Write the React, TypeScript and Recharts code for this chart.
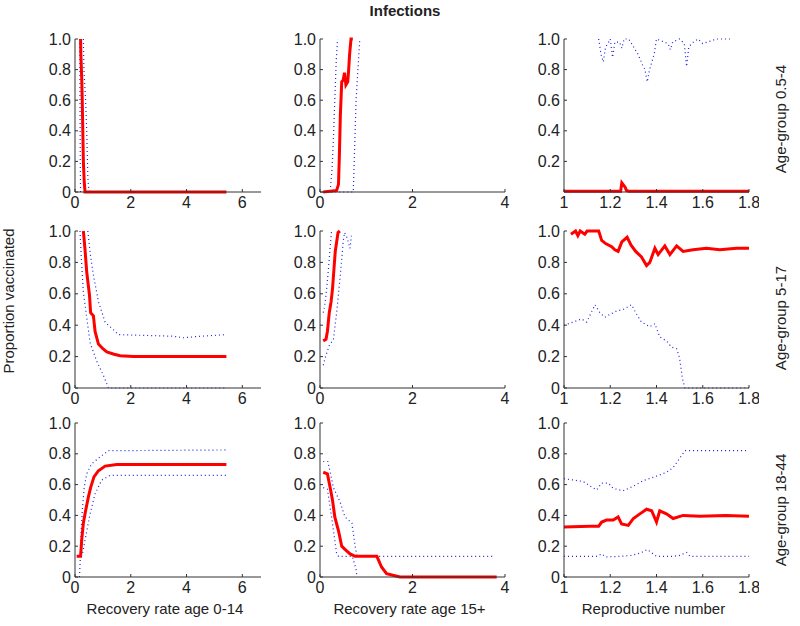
import { LineChart, Line, XAxis, YAxis } from 'recharts'

type Pt = [number, number]

const FONT = '"Liberation Sans", Arial, Helvetica, sans-serif'
const RED = '#ff0000'
const BLUE = '#2020e8'
const INK = '#222'

// x axes per column
const xTicksYoung = [0, 2, 4, 6]
const xTicksOld = [0, 2, 4]
const xTicksR = [1, 1.2, 1.4, 1.6, 1.8]
const yTicks = [0, 0.2, 0.4, 0.6, 0.8, 1]
const yTicksNoZero = [0.2, 0.4, 0.6, 0.8, 1]

const rowLabels = ['Age-group 0.5-4', 'Age-group 5-17', 'Age-group 18-44']
const colLabels = ['Recovery rate age 0-14', 'Recovery rate age 15+', 'Reproductive number']

// ---- age-group 0.5-4 ----
const r1c1Mid: Pt[] = [[0.2, 1.0], [0.21, 0.9], [0.22, 0.85], [0.24, 0.75], [0.26, 0.6], [0.28, 0.4], [0.3, 0.2], [0.33, 0.07], [0.36, 0], [5.43, 0]]
const r1c1Lo: Pt[] = [[0.17, 1.0], [0.18, 0.6], [0.19, 0.2], [0.2, 0], [5.43, 0]]
const r1c1Hi: Pt[] = [[0.3, 1.0], [0.32, 0.8], [0.38, 0.6], [0.42, 0.4], [0.46, 0.1], [0.5, 0], [5.43, 0]]

const r1c2Mid: Pt[] = [[0.07, 0], [0.36, 0.01], [0.4, 0.05], [0.42, 0.25], [0.44, 0.5], [0.47, 0.72], [0.5, 0.73], [0.53, 0.78], [0.56, 0.7], [0.6, 0.72], [0.62, 0.8], [0.64, 0.9], [0.67, 1.0], [0.71, 1.0]]
const r1c2Hi: Pt[] = [[0.07, 0], [0.22, 0], [0.26, 0.15], [0.29, 0.35], [0.32, 0.6], [0.35, 0.85], [0.38, 1.0]]
const r1c2Lo: Pt[] = [[0.07, 0], [0.6, 0], [0.72, 0], [0.75, 0.3], [0.78, 0.6], [0.82, 0.8], [0.86, 1.0]]

const r1c3Mid: Pt[] = [[1, 0.005], [1.245, 0.005], [1.25, 0.06], [1.255, 0.05], [1.26, 0.04], [1.265, 0.03], [1.27, 0.01], [1.28, 0.005], [1.8, 0.005]]
const r1c3Hi: Pt[] = [[1.15, 1.0], [1.16, 0.9], [1.17, 0.85], [1.18, 0.95], [1.19, 0.97], [1.2, 1.0], [1.21, 0.88], [1.22, 0.98], [1.24, 0.98], [1.25, 0.94], [1.26, 1.0], [1.28, 1.0], [1.3, 0.95], [1.32, 0.9], [1.34, 0.83], [1.35, 0.8], [1.36, 0.72], [1.37, 0.8], [1.38, 0.85], [1.39, 0.9], [1.4, 1.0], [1.45, 0.97], [1.46, 0.93], [1.47, 0.98], [1.5, 1.0], [1.52, 0.97], [1.53, 0.82], [1.54, 0.95], [1.56, 0.98], [1.58, 1.0], [1.6, 0.97], [1.62, 0.98], [1.64, 0.99], [1.66, 1.0], [1.72, 1.0]]

// ---- age-group 5-17 ----
const r2c1Mid: Pt[] = [[0.3, 1.0], [0.36, 0.88], [0.42, 0.74], [0.48, 0.65], [0.52, 0.59], [0.56, 0.48], [0.66, 0.46], [0.72, 0.36], [0.84, 0.28], [1.0, 0.25], [1.14, 0.23], [1.4, 0.215], [1.62, 0.205], [2.1, 0.2], [5.43, 0.2]]
const r2c1Hi: Pt[] = [[0.46, 1.0], [0.55, 0.85], [0.66, 0.72], [0.84, 0.55], [1.08, 0.42], [1.26, 0.39], [1.56, 0.34], [2.5, 0.335], [3.5, 0.33], [3.9, 0.32], [4.5, 0.33], [5.43, 0.34]]
const r2c1Lo: Pt[] = [[0.18, 1.0], [0.22, 0.85], [0.3, 0.61], [0.54, 0.29], [0.78, 0.17], [1.02, 0.08], [1.2, 0], [5.43, 0]]

const r2c2Mid: Pt[] = [[0.07, 0.3], [0.13, 0.31], [0.16, 0.36], [0.2, 0.48], [0.24, 0.55], [0.27, 0.63], [0.3, 0.75], [0.33, 0.87], [0.36, 0.93], [0.39, 0.99], [0.43, 1.0]]
const r2c2Hi: Pt[] = [[0.07, 0.48], [0.1, 0.52], [0.14, 0.62], [0.18, 0.75], [0.22, 0.9], [0.25, 1.0]]
const r2c2Lo: Pt[] = [[0.07, 0.145], [0.12, 0.2], [0.2, 0.27], [0.29, 0.31], [0.36, 0.48], [0.43, 0.69], [0.47, 0.82], [0.5, 0.93], [0.53, 0.99], [0.58, 0.96], [0.65, 0.89], [0.68, 0.97]]

const r2c3Mid: Pt[] = [[1.03, 0.98], [1.05, 1.0], [1.06, 0.97], [1.07, 1.0], [1.09, 0.98], [1.1, 1.0], [1.15, 1.0], [1.163, 0.94], [1.18, 0.92], [1.206, 0.9], [1.22, 0.88], [1.234, 0.87], [1.25, 0.93], [1.273, 0.96], [1.29, 0.91], [1.31, 0.87], [1.335, 0.835], [1.357, 0.78], [1.371, 0.8], [1.393, 0.89], [1.407, 0.85], [1.436, 0.905], [1.458, 0.85], [1.487, 0.905], [1.515, 0.87], [1.558, 0.88], [1.616, 0.89], [1.674, 0.88], [1.746, 0.89], [1.8, 0.89]]
const r2c3Lo: Pt[] = [[1.0, 0.4], [1.04, 0.42], [1.076, 0.44], [1.098, 0.42], [1.134, 0.53], [1.155, 0.48], [1.177, 0.45], [1.2, 0.47], [1.227, 0.49], [1.256, 0.5], [1.292, 0.53], [1.314, 0.47], [1.335, 0.42], [1.371, 0.39], [1.393, 0.41], [1.414, 0.325], [1.443, 0.3], [1.465, 0.26], [1.487, 0.25], [1.5, 0.19], [1.512, 0.06], [1.523, 0], [1.8, 0]]

// ---- age-group 18-44 ----
const r3c1Mid: Pt[] = [[0.06, 0.134], [0.2, 0.134], [0.24, 0.24], [0.3, 0.35], [0.38, 0.43], [0.48, 0.52], [0.56, 0.58], [0.68, 0.65], [0.84, 0.69], [1.08, 0.72], [1.5, 0.73], [5.43, 0.73]]
const r3c1Hi: Pt[] = [[0.16, 0], [0.19, 0.12], [0.22, 0.3], [0.27, 0.45], [0.33, 0.58], [0.42, 0.67], [0.6, 0.735], [0.9, 0.78], [1.2, 0.82], [5.43, 0.825]]
const r3c1Lo: Pt[] = [[0.2, 0.134], [0.28, 0.16], [0.36, 0.24], [0.54, 0.41], [0.72, 0.54], [0.96, 0.63], [1.26, 0.66], [5.43, 0.66]]

const r3c2Mid: Pt[] = [[0.07, 0.68], [0.16, 0.67], [0.22, 0.58], [0.27, 0.5], [0.32, 0.39], [0.4, 0.3], [0.47, 0.2], [0.54, 0.18], [0.65, 0.15], [0.76, 0.134], [1.23, 0.134], [1.33, 0.065], [1.44, 0.022], [1.73, 0], [3.82, 0]]
const r3c2Hi: Pt[] = [[0.07, 0.75], [0.17, 0.75], [0.29, 0.58], [0.43, 0.49], [0.54, 0.39], [0.69, 0.35], [0.76, 0.2], [0.8, 0.134], [3.75, 0.134]]
const r3c2Lo: Pt[] = [[0.07, 0.58], [0.16, 0.57], [0.25, 0.39], [0.36, 0.15], [0.4, 0.134], [0.7, 0.134], [0.78, 0.05], [0.8, 0]]

const r3c3Mid: Pt[] = [[1.0, 0.325], [1.112, 0.33], [1.15, 0.33], [1.163, 0.357], [1.184, 0.37], [1.213, 0.37], [1.234, 0.39], [1.249, 0.345], [1.278, 0.335], [1.3, 0.38], [1.328, 0.41], [1.357, 0.44], [1.379, 0.43], [1.4, 0.357], [1.414, 0.43], [1.443, 0.41], [1.472, 0.38], [1.515, 0.4], [1.587, 0.395], [1.7, 0.4], [1.8, 0.395]]
const r3c3Hi: Pt[] = [[1.0, 0.638], [1.04, 0.63], [1.083, 0.62], [1.12, 0.584], [1.141, 0.565], [1.163, 0.61], [1.191, 0.61], [1.213, 0.575], [1.256, 0.56], [1.3, 0.59], [1.342, 0.625], [1.371, 0.64], [1.4, 0.655], [1.443, 0.68], [1.472, 0.71], [1.5, 0.77], [1.523, 0.82], [1.8, 0.82]]
const r3c3Lo: Pt[] = [[1.0, 0.134], [1.14, 0.134], [1.163, 0.15], [1.18, 0.13], [1.24, 0.134], [1.29, 0.14], [1.33, 0.155], [1.36, 0.178], [1.386, 0.15], [1.4, 0.134], [1.47, 0.134], [1.5, 0.14], [1.53, 0.16], [1.545, 0.134], [1.8, 0.134]]

// layout of the plot areas
const colLeft = [75, 320, 564]
const colWidth = [186, 185, 185]
const rowTop = [39, 231, 423]
const rowHeight = [153, 157, 154]
const YW = 55
const PAD = 10
const XH = 30

const xDomains: [number, number][] = [[0, 6.67], [0, 4], [1, 1.8]]
const xTickSets = [xTicksYoung, xTicksOld, xTicksR]

const toRows = (pts: Pt[]) => pts.map(([x, y]) => ({ x, y }))
const fmtY = (v: number) => (v === 0 ? '0' : v.toFixed(1))
const fmtX = (v: number) => (Number.isInteger(v) ? String(v) : v.toFixed(1))

const tickStyle = { fontSize: 16, fill: INK, fontFamily: FONT }

interface PanelProps {
  row: number
  col: number
  mid: Pt[]
  bounds: Pt[][]
  noZero?: boolean
}

function Panel({ row, col, mid, bounds, noZero }: PanelProps) {
  const w = YW + colWidth[col] + PAD
  const h = PAD + rowHeight[row] + XH
  return (
    <div style={{ position: 'absolute', left: colLeft[col] - YW, top: rowTop[row] - PAD }}>
      <LineChart width={w} height={h} margin={{ top: PAD, right: PAD, bottom: 0, left: 0 }}>
        <XAxis
          type="number"
          dataKey="x"
          domain={xDomains[col]}
          ticks={xTickSets[col]}
          interval={0}
          height={XH}
          tick={tickStyle}
          tickFormatter={fmtX}
          tickSize={-3}
          tickMargin={8}
          axisLine={{ stroke: '#333' }}
          tickLine={{ stroke: '#333' }}
        />
        <YAxis
          type="number"
          domain={[0, 1]}
          ticks={noZero ? yTicksNoZero : yTicks}
          interval={0}
          width={YW}
          tick={tickStyle}
          tickFormatter={fmtY}
          tickSize={-3}
          tickMargin={7}
          axisLine={{ stroke: '#333' }}
          tickLine={{ stroke: '#333' }}
        />
        {bounds.map((b, i) => (
          <Line
            key={i}
            data={toRows(b)}
            dataKey="y"
            type="linear"
            stroke={BLUE}
            strokeWidth={1.2}
            strokeDasharray="1 3"
            dot={false}
            isAnimationActive={false}
          />
        ))}
        <Line
          data={toRows(mid)}
          dataKey="y"
          type="linear"
          stroke={RED}
          strokeWidth={3}
          dot={false}
          isAnimationActive={false}
        />
      </LineChart>
    </div>
  )
}

export default function App() {
  return (
    <div
      style={{
        position: 'absolute',
        left: 0,
        top: 0,
        width: 800,
        height: 626,
        background: '#fff',
        fontFamily: FONT,
      }}
    >
      <Panel row={0} col={0} mid={r1c1Mid} bounds={[r1c1Lo, r1c1Hi]} />
      <Panel row={0} col={1} mid={r1c2Mid} bounds={[r1c2Lo, r1c2Hi]} />
      <Panel row={0} col={2} mid={r1c3Mid} bounds={[r1c3Hi]} noZero />
      <Panel row={1} col={0} mid={r2c1Mid} bounds={[r2c1Lo, r2c1Hi]} />
      <Panel row={1} col={1} mid={r2c2Mid} bounds={[r2c2Lo, r2c2Hi]} />
      <Panel row={1} col={2} mid={r2c3Mid} bounds={[r2c3Lo]} />
      <Panel row={2} col={0} mid={r3c1Mid} bounds={[r3c1Lo, r3c1Hi]} />
      <Panel row={2} col={1} mid={r3c2Mid} bounds={[r3c2Lo, r3c2Hi]} />
      <Panel row={2} col={2} mid={r3c3Mid} bounds={[r3c3Lo, r3c3Hi]} />
      <svg width={800} height={626} style={{ position: 'absolute', left: 0, top: 0, pointerEvents: 'none' }}>
        <text x={405} y={16} textAnchor="middle" fontSize={15} fontWeight="bold" fill={INK} fontFamily={FONT}>
          Infections
        </text>
        <text transform="translate(14,301) rotate(-90)" textAnchor="middle" fontSize={15} fill={INK} fontFamily={FONT}>
          Proportion vaccinated
        </text>
        {colLabels.map((t, i) => (
          <text key={t} x={colLeft[i] + colWidth[i] / 2 - 3} y={614} textAnchor="middle" fontSize={15} fill={INK} fontFamily={FONT}>
            {t}
          </text>
        ))}
        {rowLabels.map((t, i) => (
          <text
            key={t}
            transform={`translate(786,${[119, 318, 510][i]}) rotate(-90)`}
            textAnchor="middle"
            fontSize={15}
            fill={INK}
            fontFamily={FONT}
          >
            {t}
          </text>
        ))}
      </svg>
    </div>
  )
}
